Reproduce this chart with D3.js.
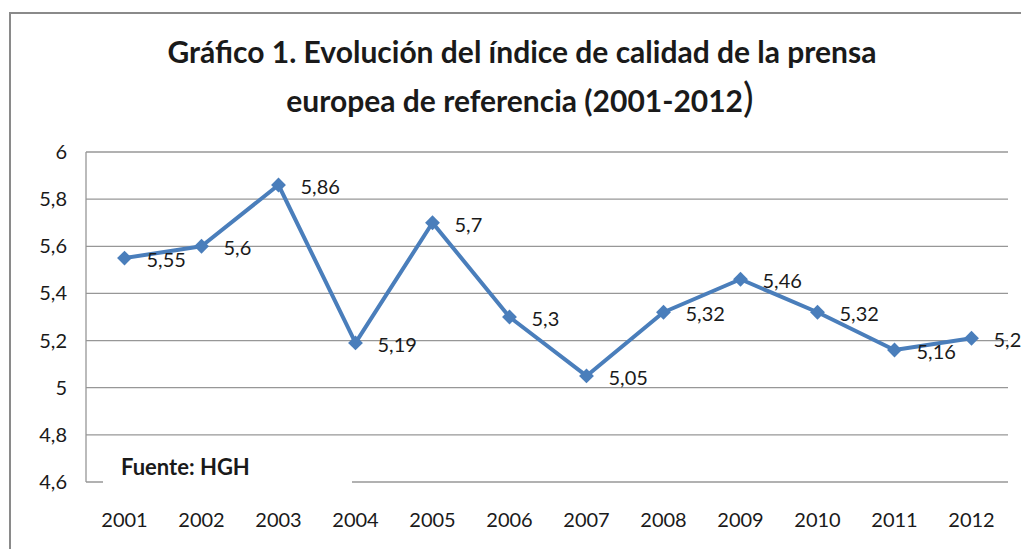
<!DOCTYPE html>
<html>
<head>
<meta charset="utf-8">
<script src="https://cdn.jsdelivr.net/npm/d3@7"></script>
<style>
    body { margin: 0; background: #fff; }
    text { font-family: Lato, "Open Sans", sans-serif; fill: #1a1a1a; }
</style>
</head>
<body>
<svg id="chart" width="1021" height="549"></svg>
<script>
// Chart data
const years = ["2001", "2002", "2003", "2004", "2005", "2006", "2007", "2008", "2009", "2010", "2011", "2012"];
const values = [5.55, 5.6, 5.86, 5.19, 5.7, 5.3, 5.05, 5.32, 5.46, 5.32, 5.16, 5.21];
const yTicks = [4.6, 4.8, 5, 5.2, 5.4, 5.6, 5.8, 6];

const svg = d3.select("#chart");
const fmt = v => String(+v.toFixed(2)).replace(".", ",");

// outer frame (runs off the right and bottom edges)
svg.append("rect")
    .attr("x", 10).attr("y", 13)
    .attr("width", 1100).attr("height", 600)
    .attr("fill", "none")
    .attr("stroke", "#8a8a8a")
    .attr("stroke-width", 2);

// title
const title = svg.append("text")
    .attr("text-anchor", "middle")
    .style("font-weight", "bold")
    .style("font-size", "30px");
title.append("tspan").attr("x", 522).attr("y", 63)
    .text("Gráfico 1. Evolución del índice de calidad de la prensa");
const t2 = title.append("tspan").attr("x", 520).attr("y", 112);
t2.append("tspan").text("europea de referencia  (2001-2012");
t2.append("tspan").style("font-size", "40px").style("font-weight", "normal").text(")");

// scales
const x = d3.scaleBand().domain(years).range([86, 1010]);
const y = d3.scaleLinear().domain([4.6, 6]).range([482, 152]);

// gridlines
svg.append("g")
    .selectAll("line")
    .data(yTicks)
    .join("line")
    .attr("x1", 86).attr("x2", 1008)
    .attr("y1", d => y(d)).attr("y2", d => y(d))
    .attr("stroke", "#979797")
    .attr("stroke-width", 1.3);

// y axis line
svg.append("line")
    .attr("x1", 86).attr("x2", 86)
    .attr("y1", y(6)).attr("y2", y(4.6))
    .attr("stroke", "#979797")
    .attr("stroke-width", 1.3);

// y tick labels
svg.append("g")
    .selectAll("text")
    .data(yTicks)
    .join("text")
    .attr("x", 67)
    .attr("y", d => y(d) + 7)
    .attr("text-anchor", "end")
    .style("font-size", "20px")
    .text(fmt);

// x tick labels
svg.append("g")
    .selectAll("text")
    .data(years)
    .join("text")
    .attr("x", d => x(d) + x.bandwidth() / 2)
    .attr("y", 527)
    .attr("text-anchor", "middle")
    .style("font-size", "20px")
    .text(d => d);

// source box (covers the bottom gridline)
svg.append("rect")
    .attr("x", 103).attr("y", 448)
    .attr("width", 249).attr("height", 42)
    .attr("fill", "#fff");
svg.append("text")
    .attr("x", 121).attr("y", 475)
    .style("font-size", "22px")
    .style("font-weight", "bold")
    .text("Fuente: HGH");

// series line
const cx = (d, i) => x(years[i]) + x.bandwidth() / 2;
const line = d3.line()
    .x(cx)
    .y(d => y(d));

svg.append("path")
    .datum(values)
    .attr("d", line)
    .attr("fill", "none")
    .attr("stroke", "#4a7ebb")
    .attr("stroke-width", 4)
    .attr("stroke-linejoin", "round");

// diamond markers
svg.append("g")
    .selectAll("path")
    .data(values)
    .join("path")
    .attr("d", d3.symbol(d3.symbolSquare, 110))
    .attr("transform", (d, i) => `translate(${cx(d, i)},${y(d)}) rotate(45)`)
    .attr("fill", "#4a7ebb");

// data labels
svg.append("g")
    .selectAll("text")
    .data(values)
    .join("text")
    .attr("x", (d, i) => cx(d, i) + 22)
    .attr("y", d => y(d) + 9)
    .style("font-size", "20px")
    .text(fmt);
</script>
</body>
</html>
